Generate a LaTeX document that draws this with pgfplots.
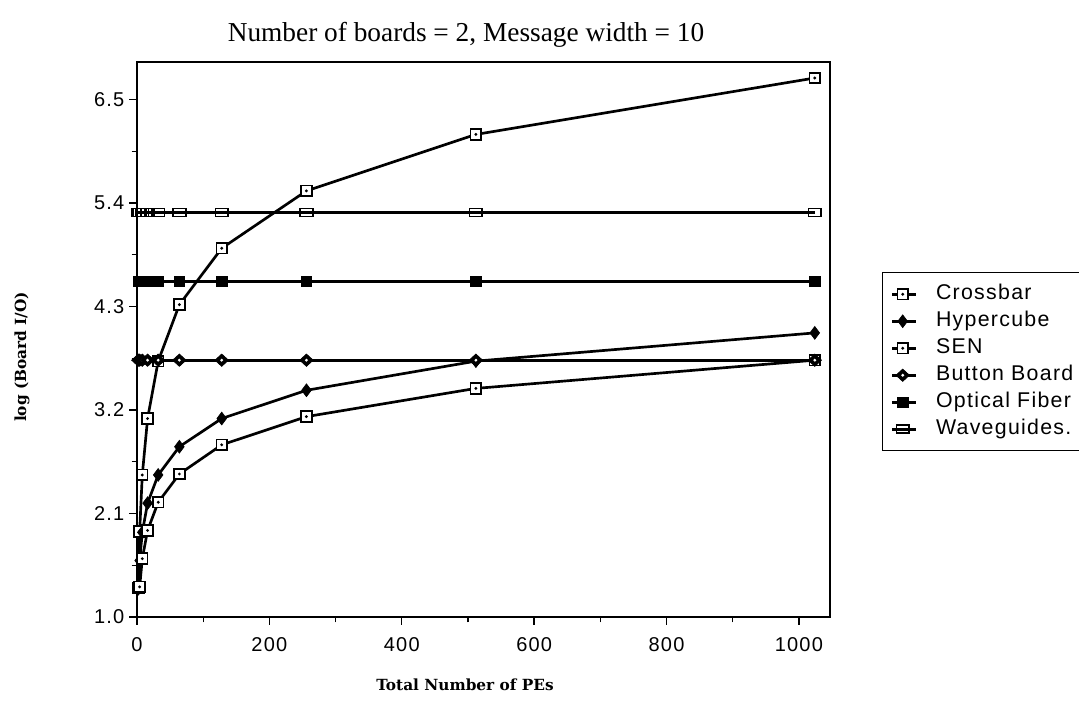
\documentclass[border=0pt]{standalone}
\usepackage{fontspec}
\setmainfont{Liberation Serif}
\newfontfamily\sansf{Liberation Sans}
\newfontfamily\ticksf[LetterSpace=6]{Liberation Sans}
\newfontfamily\labf{DejaVu Serif}
\usepackage{pgfplots}
\pgfplotsset{compat=1.18}
\usepackage{pgfplotstable}

\pgfdeclareplotmark{sqdot}{%
  \pgfpathrectangle{\pgfqpoint{-\pgfplotmarksize}{-\pgfplotmarksize}}{\pgfqpoint{2\pgfplotmarksize}{2\pgfplotmarksize}}%
  \pgfusepathqfillstroke
  \begin{pgfscope}%
  \pgfsetfillcolor{black}%
  \pgfpathcircle{\pgfpointorigin}{0.3\pgfplotmarksize}%
  \pgfusepathqfill
  \end{pgfscope}%
}
\pgfdeclareplotmark{diadot}{%
  \begin{pgfscope}%
  \pgfsetfillcolor{black}%
  \pgfpathmoveto{\pgfqpoint{0pt}{1.1\pgfplotmarksize}}%
  \pgfpathlineto{\pgfqpoint{1.2\pgfplotmarksize}{0pt}}%
  \pgfpathlineto{\pgfqpoint{0pt}{-1.1\pgfplotmarksize}}%
  \pgfpathlineto{\pgfqpoint{-1.2\pgfplotmarksize}{0pt}}%
  \pgfpathclose
  \pgfusepathqfillstroke
  \end{pgfscope}%
  \begin{pgfscope}%
  \pgfsetfillcolor{white}%
  \pgfpathcircle{\pgfpointorigin}{0.28\pgfplotmarksize}%
  \pgfusepathqfill
  \end{pgfscope}%
}

\pgfplotstableread{
N    cross  hyper  button optical wave
2    1.31   1.30   3.73   4.57    5.30
4    1.91   1.60   3.73   4.57    5.30
8    2.51   1.90   3.73   4.57    5.30
16   3.11   2.21   3.73   4.57    5.30
32   3.72   2.51   3.73   4.57    5.30
64   4.32   2.81   3.73   4.57    5.30
128  4.92   3.11   3.73   4.57    5.30
256  5.53   3.41   3.73   4.57    5.30
512  6.13   3.72   3.73   4.57    5.30
1024 6.73   4.02   3.73   4.57    5.30
}\datatable

\pgfplotstableread{
N    sen
4    1.32
8    1.62
16   1.92
32   2.22
64   2.52
128  2.83
256  3.13
512  3.43
1024 3.73
}\sentable

\begin{document}
\begin{tikzpicture}
\useasboundingbox (0,0) rectangle (809.25pt,529.5pt);
\begin{axis}[
  at={(102.75pt,66.75pt)}, anchor=south west,
  scale only axis, width=519.75pt, height=416.25pt,
  xmin=0, xmax=1047, ymin=1.0, ymax=6.9,
  xtick={0,200,...,1000}, minor xtick={100,300,...,900},
  ytick={1.0,2.1,3.2,4.3,5.4,6.5}, minor ytick={1.55,2.65,3.75,4.85,5.95},
  tick align=outside, tick pos=left,
  major tick length=6pt, minor tick length=4pt,
  every tick/.style={black, line width=1pt},
  axis line style={line width=1.2pt},
  /pgf/number format/assume math mode=true,
  yticklabel style={/pgf/number format/fixed, /pgf/number format/fixed zerofill, /pgf/number format/precision=1},
  xticklabel style={/pgf/number format/1000 sep={}, yshift=-6pt},
  ticklabel style={font=\ticksf\fontsize{15}{15}\selectfont},
  legend style={at={(1.075,0.6216)}, anchor=north west, draw=black, line width=1.1pt,
    font=\ticksf\fontsize{16}{16}\selectfont,
    nodes={text height=11.5pt, text depth=4pt, inner ysep=2.375pt, inner xsep=2pt},
    inner xsep=6pt, inner ysep=6pt, legend cell align=left,
    /tikz/every odd column/.append style={column sep=12pt},
    text width=125pt},
  legend image code/.code={\draw[mark repeat=2,mark phase=2,#1] plot coordinates {(0pt,0pt)(8pt,0pt)(18pt,0pt)};},
  every axis plot/.append style={line width=2pt, black},
  clip=false,
]
\addplot[mark=sqdot, mark size=4pt, mark options={fill=white, line width=1.3pt}] table[x=N, y=cross] {\datatable};
\addlegendentry{Crossbar}
\addplot[mark=diamond*, mark size=4.8pt, mark options={fill=black, line width=0.5pt}] table[x=N, y=hyper] {\datatable};
\addlegendentry{Hypercube}
\addplot[mark=sqdot, mark size=4pt, mark options={fill=white, line width=1.3pt}] table[x=N, y=sen] {\sentable};
\addlegendentry{SEN}
\addplot[mark=diadot, mark size=4.2pt, mark options={line width=0.5pt}] table[x=N, y=button] {\datatable};
\addlegendentry{Button Board}
\addplot[mark=square*, mark size=4pt, mark options={fill=black, line width=0.5pt}] table[x=N, y=optical] {\datatable};
\addlegendentry{Optical Fiber}
\addplot[mark=square, mark size=3.8pt, mark options={fill=white, line width=1.3pt, xscale=1.25, yscale=0.8, rounded corners=1pt}] table[x=N, y=wave] {\datatable};
\addlegendentry{Waveguides.}
\end{axis}
\node[font=\fontsize{20.5}{20.5}\selectfont] at (349.5pt,503.25pt) {Number of boards = 2, Message width = 10};
\node[font=\labf\bfseries\fontsize{11.5}{11.5}\selectfont] at (348.75pt,15.75pt) {Total Number of PEs};
\node[font=\labf\bfseries\fontsize{11.5}{11.5}\selectfont, rotate=90] at (16.5pt,261.75pt) {log (Board I/O)};
\end{tikzpicture}
\end{document}
